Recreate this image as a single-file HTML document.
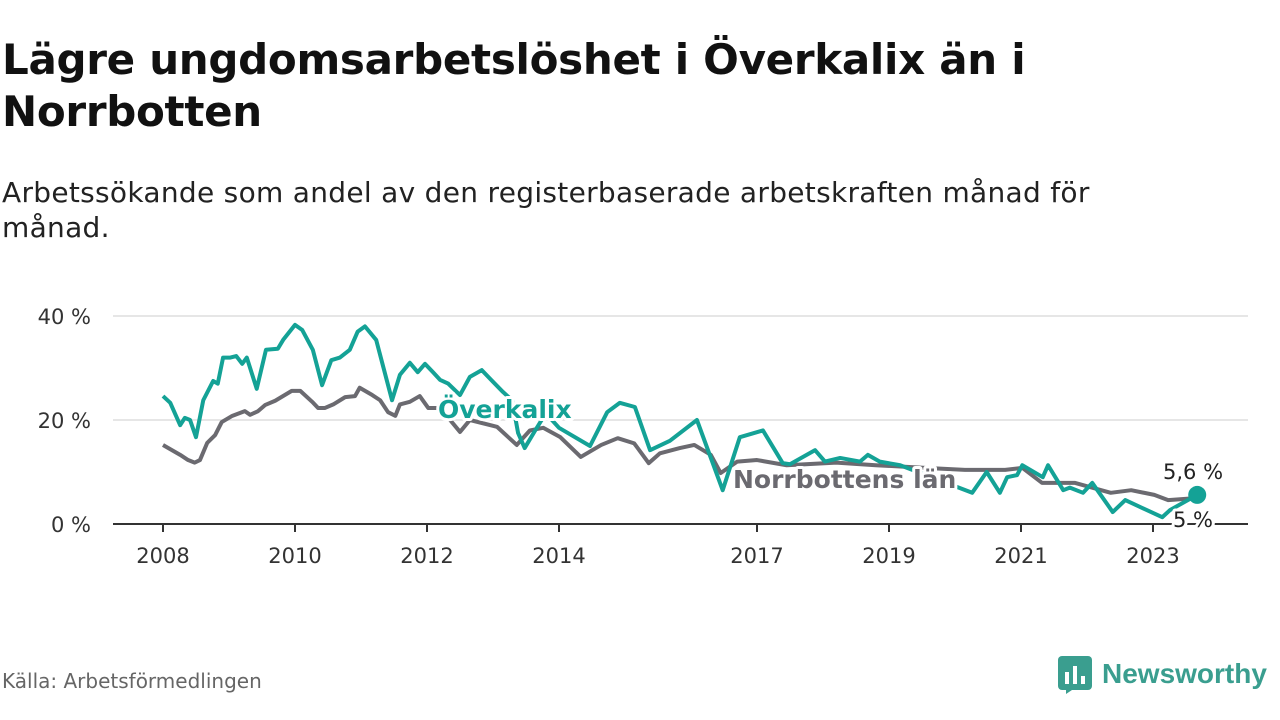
<!DOCTYPE html>
<html><head><meta charset="utf-8"><style>
body{margin:0;width:1280px;height:720px;background:#fff;font-family:"DejaVu Sans","Liberation Sans",sans-serif;overflow:hidden;position:relative}
h1{position:absolute;left:2px;top:34px;margin:0;font-size:42px;line-height:52px;font-weight:bold;color:#111;letter-spacing:-0.3px}
.sub{position:absolute;left:2px;top:175px;font-size:28px;line-height:35px;color:#222;width:1200px;letter-spacing:0.3px}
.src{position:absolute;left:2px;top:669px;font-size:20px;color:#666}
.logo{position:absolute;left:1058px;top:654px;display:flex;align-items:center;color:#3a9e8f;font-size:28px;font-weight:bold;font-family:"Liberation Sans",sans-serif}
</style></head><body>
<h1>Lägre ungdomsarbetslöshet i Överkalix än i<br>Norrbotten</h1>
<div class="sub">Arbetssökande som andel av den registerbaserade arbetskraften månad för månad.</div>
<svg id="chart" width="1280" height="720" style="position:absolute;left:0;top:0"></svg>
<div class="src">Källa: Arbetsförmedlingen</div>
<div class="logo"><svg width="36" height="40" style="margin-right:8px"><rect x="0" y="2" width="34" height="34" rx="4" fill="#3a9e8f"/><rect x="7" y="18" width="4" height="12" fill="#fff"/><rect x="15" y="12" width="4" height="18" fill="#fff"/><rect x="23" y="22" width="4" height="8" fill="#fff"/><path d="M8 36 L8 40 L14 36Z" fill="#3a9e8f"/></svg>Newsworthy</div>
<script>
const yTicks=[0,20,40];
const xTickYears=[2008,2010,2012,2014,2017,2019,2021,2023];
const ovDates=[2008.00,2008.11,2008.26,2008.33,2008.41,2008.50,2008.61,2008.76,2008.83,2008.91,2009.02,2009.11,2009.20,2009.27,2009.42,2009.56,2009.74,2009.82,2010.00,2010.11,2010.27,2010.41,2010.55,2010.68,2010.83,2010.95,2011.06,2011.23,2011.47,2011.59,2011.74,2011.86,2011.97,2012.09,2012.20,2012.32,2012.50,2012.65,2012.83,2012.95,2013.15,2013.29,2013.38,2013.48,2013.64,2013.80,2014.00,2014.47,2014.73,2014.92,2015.15,2015.38,2015.68,2016.09,2016.48,2016.74,2017.09,2017.39,2017.50,2017.88,2018.03,2018.26,2018.56,2018.68,2018.86,2019.17,2020.26,2020.48,2020.68,2020.79,2020.94,2021.02,2021.33,2021.41,2021.64,2021.74,2021.94,2022.08,2022.39,2022.58,2023.14,2023.26,2023.67];
const ovValues=[24.6,23.3,19,20.4,20,16.7,23.8,27.5,27,32,32,32.3,30.8,32,26,33.5,33.7,35.4,38.3,37.3,33.5,26.7,31.5,32,33.5,37,38,35.4,23.8,28.7,31,29.2,30.8,29.2,27.7,27,24.8,28.3,29.6,28,25.4,23.8,17.5,14.6,18,21.3,18.5,15,21.5,23.3,22.5,14.2,16,20,6.5,16.7,18,11.7,11.5,14.2,12,12.7,12,13.3,12,11.3,6,10,6,9,9.4,11.3,9,11.3,6.5,7,6,7.9,2.3,4.6,1.3,2.7,5.6];
const nbDates=[2008.00,2008.26,2008.38,2008.48,2008.56,2008.67,2008.79,2008.89,2009.05,2009.24,2009.32,2009.44,2009.55,2009.70,2009.95,2010.08,2010.26,2010.35,2010.45,2010.58,2010.76,2010.91,2010.98,2011.17,2011.29,2011.41,2011.52,2011.59,2011.74,2011.89,2012.02,2012.17,2012.35,2012.50,2012.65,2013.06,2013.36,2013.56,2013.76,2014.02,2014.33,2014.64,2014.89,2015.14,2015.36,2015.53,2015.83,2016.05,2016.30,2016.45,2016.70,2017.00,2017.45,2018.20,2018.80,2019.55,2020.15,2020.76,2021.02,2021.32,2021.82,2022.36,2022.67,2023.02,2023.23,2023.67];
const nbValues=[15.2,13.3,12.3,11.8,12.3,15.6,17.1,19.6,20.8,21.7,21,21.7,22.9,23.7,25.6,25.6,23.5,22.3,22.3,23,24.4,24.6,26.2,24.8,23.8,21.5,20.8,23,23.5,24.6,22.3,22.3,20,17.7,20,18.7,15.2,18,18.5,16.7,12.9,15.2,16.5,15.5,11.7,13.6,14.6,15.2,13.3,9.8,12,12.3,11.3,11.8,11.3,10.8,10.4,10.4,10.8,7.9,7.9,6,6.5,5.6,4.6,5];
const NS="http://www.w3.org/2000/svg";
const svg=document.getElementById('chart');
const xS=t=>163+(t-2008)*66;
const yS=v=>524-v*5.2;
function el(tag,attrs,txt){const e=document.createElementNS(NS,tag);for(const k in attrs)e.setAttribute(k,attrs[k]);if(txt!==undefined)e.textContent=txt;svg.appendChild(e);return e;}
yTicks.forEach(v=>{
  const g=el('line',{x1:113,x2:1248,y1:yS(v),y2:yS(v),stroke:v===0?'#333':'#ddd','stroke-width':v===0?2:1.5});
  
  
  const t=el('text',{x:91,y:yS(v)+8,'text-anchor':'end','font-size':21,fill:'#333'},v+' %');
  
  
});
xTickYears.forEach(y=>{
  const tk=el('line',{x1:xS(y),x2:xS(y),y1:524,y2:532,stroke:'#333','stroke-width':2});
  
  
  const t=el('text',{x:xS(y),y:563,'text-anchor':'middle','font-size':21,fill:'#333'},String(y));
  
  
});
function line(d,v,col,name){
  const p=el('polyline',{points:d.map((t,i)=>xS(t)+','+yS(v[i])).join(' '),fill:'none',stroke:col,'stroke-width':4,'stroke-linejoin':'round'});
  
  
}
line(nbDates,nbValues,'#6b6a70','norrbotten-line');
line(ovDates,ovValues,'#14a296','overkalix-line');
const dot=el('circle',{cx:xS(ovDates[ovDates.length-1]),cy:yS(ovValues[ovValues.length-1]),r:9,fill:'#14a296'});


function lab(x,y,txt,col,name,size,bold){
  const t=el('text',{x:x,y:y,'font-size':size,'font-weight':bold?'bold':'normal',fill:col,stroke:'#fff','stroke-width':6,'paint-order':'stroke','stroke-linejoin':'round'},txt);
  
  
}
lab(438,418,'Överkalix','#14a296','overkalix-label',25,true);
lab(733,488,'Norrbottens län','#6b6a70','norrbotten-label',25,true);
lab(1163,479,'5,6 %','#222','overkalix-end-value',21,false);
lab(1173,527,'5 %','#222','norrbotten-end-value',21,false);
</script>
</body></html>
